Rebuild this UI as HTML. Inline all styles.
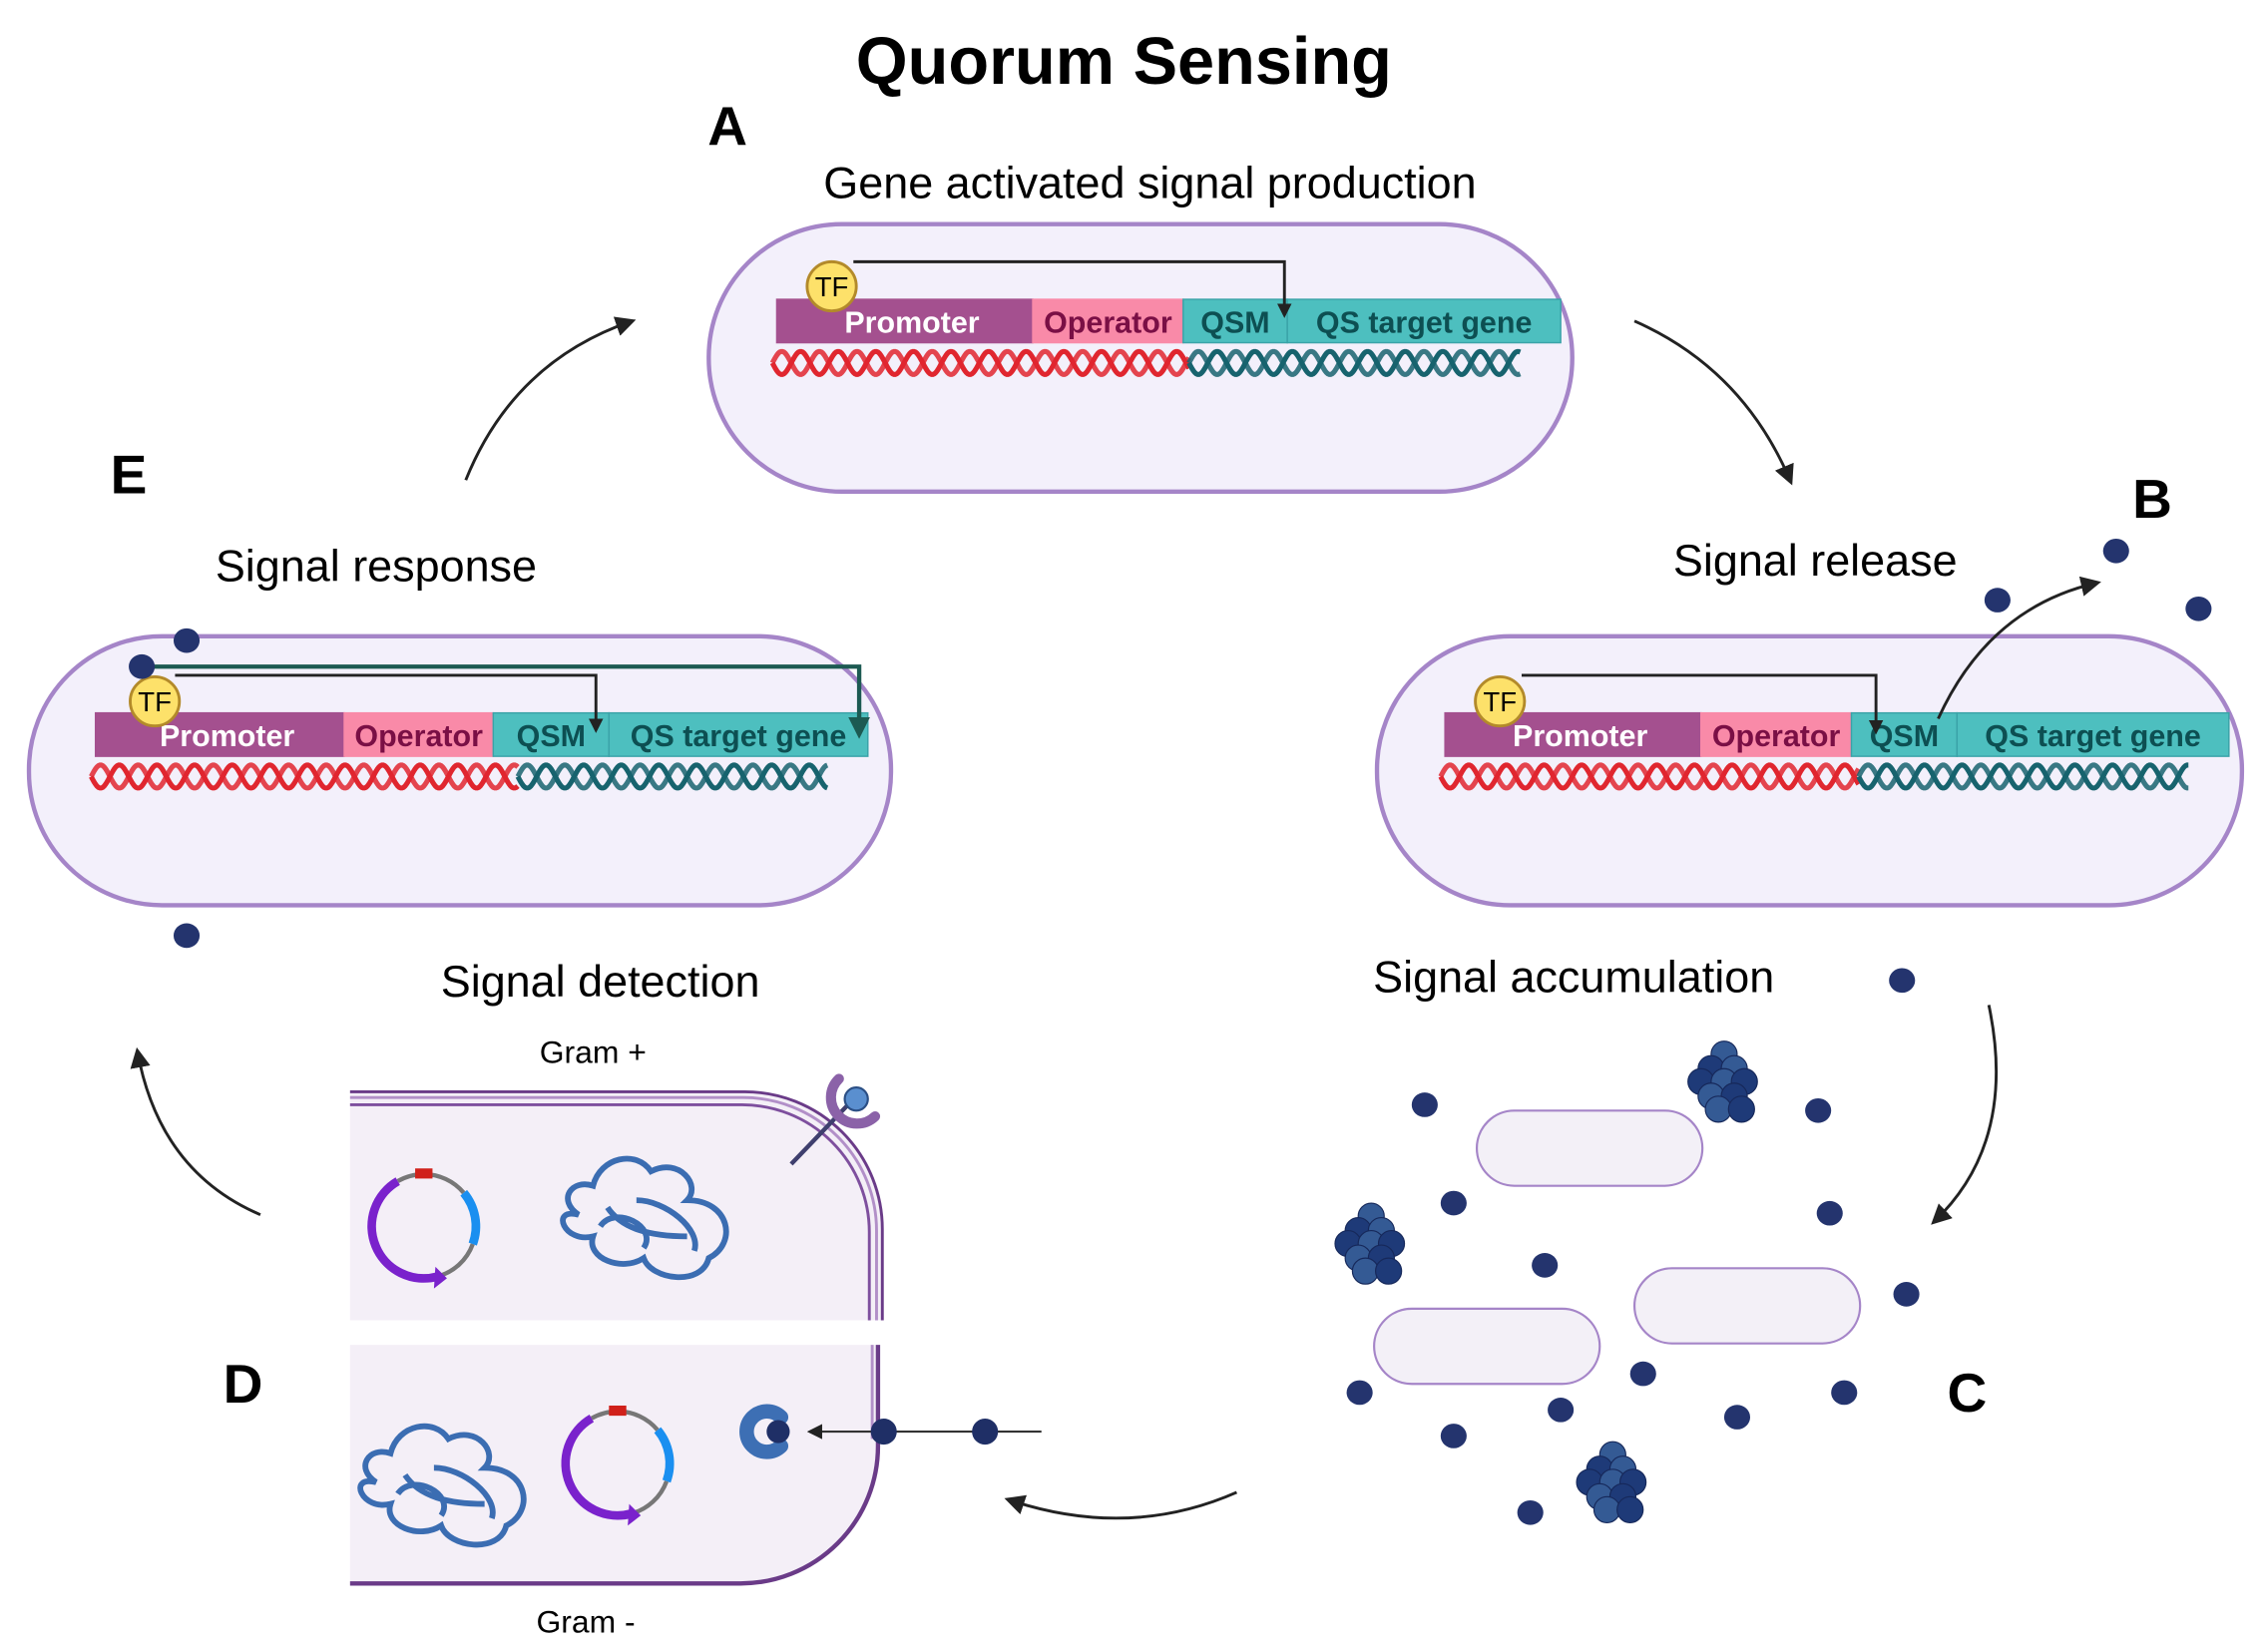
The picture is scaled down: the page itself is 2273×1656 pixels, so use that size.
<!DOCTYPE html>
<html><head><meta charset="utf-8"><style>
html,body{margin:0;padding:0;background:#fff;}
svg{display:block;}
text{font-family:"Liberation Sans",sans-serif;}
.g{font-weight:bold;font-size:21px;font-family:"Liberation Sans Narrow","Liberation Sans",sans-serif;}
</style></head><body>
<svg id="s" width="2273" height="1656" viewBox="0 0 1568 1142.4" xmlns="http://www.w3.org/2000/svg">
<defs>
<marker id="ah" viewBox="0 0 10 10" refX="8" refY="5" markerWidth="7" markerHeight="7" orient="auto-start-reverse"><path d="M0,0 L10,5 L0,10 z" fill="#222"/></marker>
<marker id="ah2" viewBox="0 0 10 10" refX="8" refY="5" markerWidth="5" markerHeight="5" orient="auto"><path d="M0,0 L10,5 L0,10 z" fill="#222"/></marker>
<marker id="ah3" viewBox="0 0 10 10" refX="8" refY="5" markerWidth="5" markerHeight="5" orient="auto"><path d="M0,0 L10,5 L0,10 z" fill="#1c5a52"/></marker>
</defs>
<text x="777" y="58" text-anchor="middle" font-size="46" font-weight="bold">Quorum Sensing</text>
<text x="503" y="100" text-anchor="middle" font-size="38" font-weight="bold">A</text>
<text x="795" y="137" text-anchor="middle" font-size="31">Gene activated signal production</text>
<text x="1488" y="358" text-anchor="middle" font-size="38" font-weight="bold">B</text>
<text x="1255" y="398" text-anchor="middle" font-size="31">Signal release</text>
<text x="89" y="341" text-anchor="middle" font-size="38" font-weight="bold">E</text>
<text x="260" y="402" text-anchor="middle" font-size="31">Signal response</text>
<text x="415" y="689" text-anchor="middle" font-size="31">Signal detection</text>
<text x="1088" y="686" text-anchor="middle" font-size="31">Signal accumulation</text>
<text x="168" y="970" text-anchor="middle" font-size="38" font-weight="bold">D</text>
<text x="1360" y="976" text-anchor="middle" font-size="38" font-weight="bold">C</text>
<text x="410" y="735" text-anchor="middle" font-size="22">Gram +</text>
<text x="405" y="1129" text-anchor="middle" font-size="22">Gram -</text>

<rect x="490" y="155" width="597" height="185" rx="92" fill="#f3f0fb" stroke="#a585c8" stroke-width="3"/>
<rect x="952" y="440" width="598" height="186" rx="92" fill="#f3f0fb" stroke="#a585c8" stroke-width="3"/>
<rect x="20" y="440" width="596" height="186" rx="92" fill="#f3f0fb" stroke="#a585c8" stroke-width="3"/>

<g id="genes"></g>

<path d="M590,181 H888 V218" fill="none" stroke="#222" stroke-width="2" marker-end="url(#ah2)"/>
<path d="M1052,467 H1297 V506" fill="none" stroke="#222" stroke-width="2" marker-end="url(#ah2)"/>
<path d="M1340,497 Q1375,420 1450,403" fill="none" stroke="#222" stroke-width="2" marker-end="url(#ah)"/>
<path d="M99,461 H594 V508" fill="none" stroke="#1c5a52" stroke-width="3" marker-end="url(#ah3)"/>
<path d="M121,467 H412 V505" fill="none" stroke="#222" stroke-width="2" marker-end="url(#ah2)"/>

<path d="M1130,222 Q1205,255 1238,333" fill="none" stroke="#222" stroke-width="2" marker-end="url(#ah)"/>
<path d="M322,332 Q355,250 437,222" fill="none" stroke="#222" stroke-width="2" marker-end="url(#ah)"/>
<path d="M1375,695 Q1395,790 1337,845" fill="none" stroke="#222" stroke-width="2" marker-end="url(#ah)"/>
<path d="M855,1032 Q780,1065 697,1037" fill="none" stroke="#222" stroke-width="2" marker-end="url(#ah)"/>
<path d="M180,840 Q110,810 95,727" fill="none" stroke="#222" stroke-width="2" marker-end="url(#ah)"/>

<path d="M242,755 H515 A95,95 0 0 1 610,850 V913 H242 Z" fill="#f4eff7"/>
<path d="M242,755 H515 A95,95 0 0 1 610,850 V913" fill="none" stroke="#6a3b88" stroke-width="2"/>
<path d="M242,759 H514 A92,92 0 0 1 606,851 V913" fill="none" stroke="#b28fc8" stroke-width="2"/>
<path d="M242,764 H513 A88,88 0 0 1 601,852 V913" fill="none" stroke="#7e4f9e" stroke-width="2"/>
<path d="M242,930 H607 V1000 A95,95 0 0 1 512,1095 H242 Z" fill="#f4eff7"/>
<path d="M607,930 V1000 A95,95 0 0 1 512,1095 H242" fill="none" stroke="#6a3b88" stroke-width="3"/>
<path d="M603,930 V995" fill="none" stroke="#b28fc8" stroke-width="2"/>
<line x1="547" y1="805" x2="592" y2="758" stroke="#3f3f6e" stroke-width="3"/>
<path d="M580,746 A18,18 0 0 0 605,772" fill="none" stroke="#8b62a8" stroke-width="7" stroke-linecap="round"/>
<circle cx="592" cy="760" r="8" fill="#5a8fcf" stroke="#2b4f85" stroke-width="1.5"/>
<path d="M540,980 A14,14 0 1 0 540,1000" fill="none" stroke="#3d6fb4" stroke-width="10" stroke-linecap="round"/>
<circle cx="538" cy="990" r="8" fill="#1f2f66"/>
<line x1="720" y1="990" x2="560" y2="990" stroke="#333" stroke-width="1.5" marker-end="url(#ah)"/>
<circle cx="611" cy="990" r="9" fill="#1f2f66"/>
<circle cx="681" cy="990" r="9" fill="#1f2f66"/>
<g id="plas"></g>
<g fill="none" stroke="#3b6db2" stroke-width="4">
<path d="M400,840 c-15,-10 -5,-25 10,-20 c5,-20 30,-25 40,-10 c20,-10 35,10 25,20 c30,0 35,30 15,40 c-5,20 -40,15 -45,0 c-15,10 -40,0 -35,-15 c-20,5 -30,-20 -10,-15 z M415,848 c10,-15 40,0 30,15 M440,830 c20,0 45,20 40,35 M420,835 c10,15 30,20 55,20"/>
<path d="M260,1025 c-15,-10 -5,-25 10,-20 c5,-20 30,-25 40,-10 c20,-10 35,10 25,20 c30,0 35,30 15,40 c-5,20 -40,15 -45,0 c-15,10 -40,0 -35,-15 c-20,5 -30,-20 -10,-15 z M275,1033 c10,-15 40,0 30,15 M300,1015 c20,0 45,20 40,35 M280,1020 c10,15 30,20 55,20"/>
</g>

<rect x="1021" y="768" width="156" height="52" rx="26" fill="#f3f0f7" stroke="#a585c8" stroke-width="1.5"/>
<rect x="1130" y="877" width="156" height="52" rx="26" fill="#f3f0f7" stroke="#a585c8" stroke-width="1.5"/>
<rect x="950" y="905" width="156" height="52" rx="26" fill="#f3f0f7" stroke="#a585c8" stroke-width="1.5"/>
<g id="dots" fill="#24346e"></g>
</svg>
<script>
var NS="http://www.w3.org/2000/svg";
function el(p,t,a,txt){var e=document.createElementNS(NS,t);for(var k in a)e.setAttribute(k,a[k]);if(txt)e.textContent=txt;p.appendChild(e);return e;}
var G=document.getElementById('genes');
function helix(x0,x1,y,col){var d1="",d2="",A=8,per=26;for(var x=x0;x<=x1;x+=1){var p=(x-x0)/per*2*Math.PI;d1+=(x==x0?"M":"L")+x+","+(y+A*Math.sin(p)).toFixed(1);d2+=(x==x0?"M":"L")+x+","+(y-A*Math.sin(p)).toFixed(1);}
el(G,'path',{d:d1,fill:'none',stroke:col,'stroke-width':3.5});el(G,'path',{d:d2,fill:'none',stroke:col,'stroke-width':3.5,opacity:0.85});}
function gene(xs,y,tf,hx){var cols=['#a4508f','#f98aa8','#4dbfbf','#4dbfbf'];var lab=['Promoter','Operator','QSM','QS target gene'];var tc=['#fff','#7a0f45','#0d4f52','#0d4f52'];
for(var i=0;i<4;i++){el(G,'rect',{x:xs[i],y:y,width:xs[i+1]-xs[i],height:30,fill:cols[i],stroke:i>=2?'#3aa3a8':cols[i],'stroke-width':1});
el(G,'text',{x:(xs[i]+xs[i+1])/2+(i==0?5:0),y:y+23,'text-anchor':'middle','class':'g',fill:tc[i]},lab[i]);}
helix(xs[0]-3,hx,y+44,'#e0262f');helix(hx,xs[4]-28,y+44,'#17636e');
el(G,'circle',{cx:tf[0],cy:tf[1],r:17,fill:'#fde16a',stroke:'#b38a2a','stroke-width':2});
el(G,'text',{x:tf[0],y:tf[1]+7,'text-anchor':'middle','font-size':19},'TF');}
gene([537,714,818,890,1079],207,[575,198],822);
gene([999,1176,1280,1353,1541],493,[1037,485],1285);
gene([66,238,341,421,600],493,[107,485],358);
var P=document.getElementById('plas');
function plasmid(cx,cy){var r=36;function arc(a0,a1,col,w){var p0=[cx+r*Math.cos(a0),cy+r*Math.sin(a0)],p1=[cx+r*Math.cos(a1),cy+r*Math.sin(a1)];el(P,'path',{d:'M'+p0+' A'+r+','+r+' 0 '+((a1-a0)>Math.PI?1:0)+' 1 '+p1,fill:'none',stroke:col,'stroke-width':w});}
var d=Math.PI/180;arc(-90*d,-40*d,'#777',3);arc(-40*d,20*d,'#1a8ff0',6);arc(20*d,75*d,'#777',3);arc(-120*d,-90*d,'#777',3);arc(75*d,240*d,'#7a22cc',6);
el(P,'rect',{x:cx-6,y:cy-r-4,width:12,height:7,fill:'#d0201a'});
el(P,'path',{d:'M'+(cx+8)+','+(cy+r-8)+' l8,8 l-9,7 z',fill:'#7a22cc'});}
plasmid(293,848);plasmid(427,1012);
var D=document.getElementById('dots');
[[1463,381],[1381,415],[1520,421],[129,443],[98,461],[129,647],[1315,678],[985,764],[1257,768],[1005,832],[1265,839],[1068,875],[1318,895],[1136,950],[940,963],[1079,975],[1201,980],[1275,963],[1005,993],[1058,1046]].forEach(function(p){el(D,'ellipse',{cx:p[0],cy:p[1],rx:9,ry:8.5});});
function cluster(cx,cy){var o=[[0,-17],[-9,-7],[7,-7],[-16,2],[0,2],[14,2],[-9,12],[7,12],[-4,21],[12,21]];o.forEach(function(q,i){el(D,'circle',{cx:cx+q[0],cy:cy+q[1],r:9,fill:i%2?'#1e3a78':'#345a94',stroke:'#16285a','stroke-width':0.8});});}
cluster(1192,746);cluster(948,858);cluster(1115,1023);
</script>
</body></html>
